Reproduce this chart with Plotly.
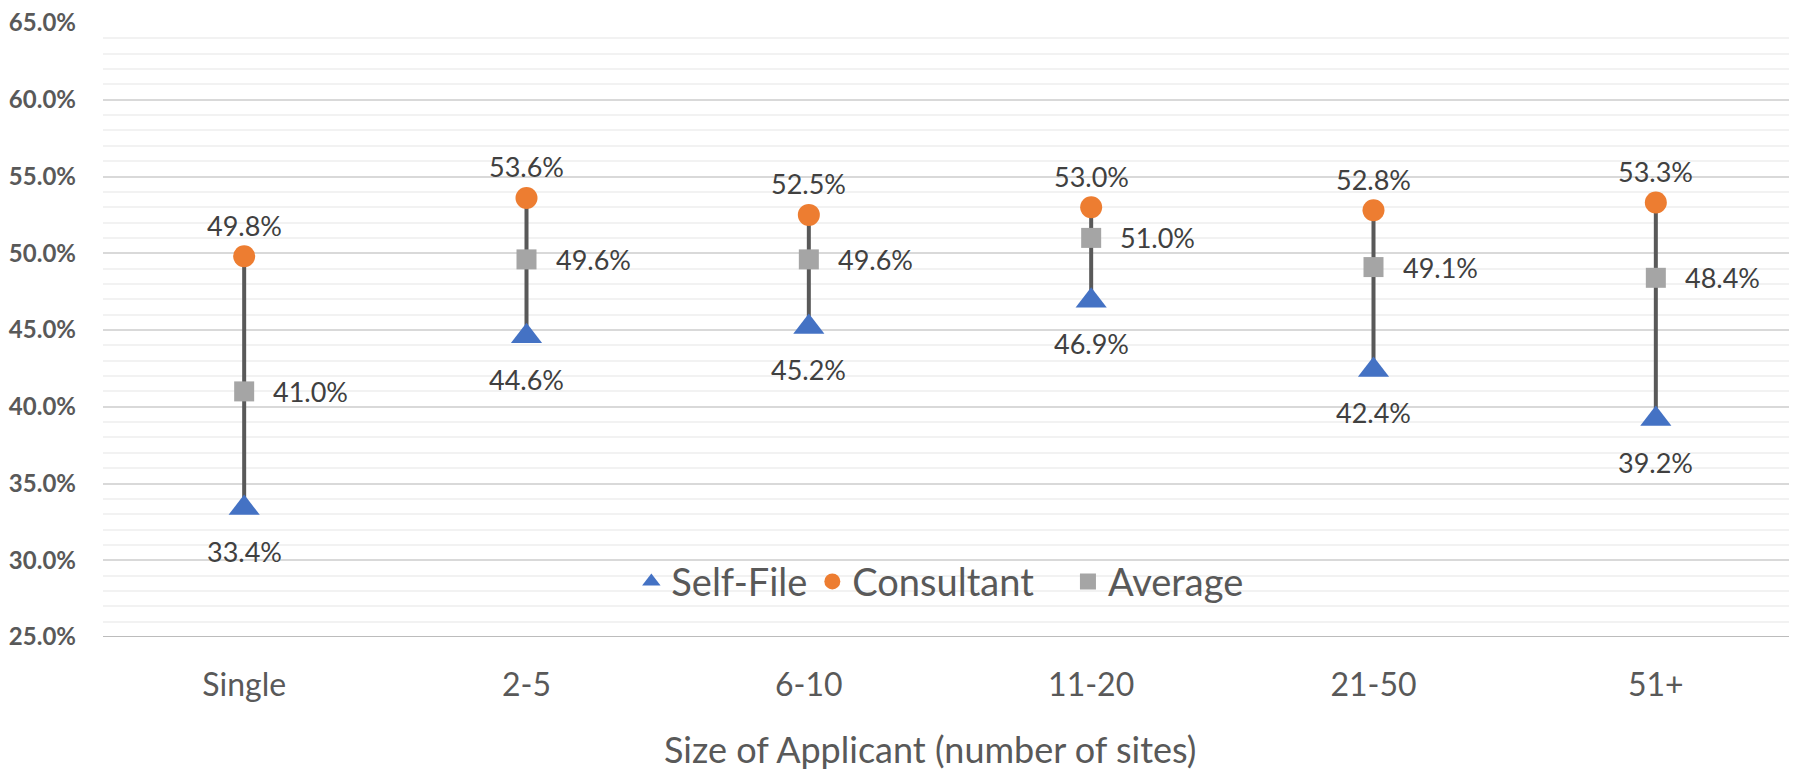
import plotly.graph_objects as go

categories = ["Single", "2-5", "6-10", "11-20", "21-50", "51+"]
self_file = [0.334, 0.446, 0.452, 0.469, 0.424, 0.392]
consultant = [0.498, 0.536, 0.525, 0.530, 0.528, 0.533]
average = [0.410, 0.496, 0.496, 0.510, 0.491, 0.484]
y_ticks = [0.25, 0.30, 0.35, 0.40, 0.45, 0.50, 0.55, 0.60, 0.65]
x_title = "Size of Applicant (number of sites)"

FONT = "Lato"
BLUE = "#4472C4"
ORANGE = "#ED7D31"
GRAY = "#A5A5A5"
NB = "\u00a0"

fig = go.Figure()

# connecting vertical lines (high-low)
lx, ly = [], []
for c, lo, hi in zip(categories, self_file, consultant):
    lx += [c, c, None]
    ly += [lo, hi, None]
fig.add_trace(go.Scatter(x=lx, y=ly, mode="lines", line=dict(color="#595959", width=4),
                         showlegend=False, hoverinfo="skip"))

fig.add_trace(go.Scatter(x=categories, y=self_file, mode="markers", name="Self-File",
                         marker=dict(symbol="triangle-up", size=27, color=BLUE)))
fig.add_trace(go.Scatter(x=categories, y=consultant, mode="markers",
                         name="Consultant" + NB * 3,
                         marker=dict(symbol="circle", size=22, color=ORANGE)))
fig.add_trace(go.Scatter(x=categories, y=average, mode="markers", name="Average",
                         marker=dict(symbol="square", size=20, color=GRAY)))

label_font = dict(family=FONT, size=27, color="#404040")
for c, v in zip(categories, consultant):
    fig.add_annotation(x=c, y=v, text=f"{v*100:.1f}%", showarrow=False, yshift=31,
                       font=label_font)
for c, v in zip(categories, self_file):
    fig.add_annotation(x=c, y=v, text=f"{v*100:.1f}%", showarrow=False, yshift=-43,
                       font=label_font)
for c, v in zip(categories, average):
    fig.add_annotation(x=c, y=v, text=f"{v*100:.1f}%", showarrow=False, xanchor="left",
                       xshift=27, font=label_font)

# axis title as a centred caption under the tick labels
fig.add_annotation(xref="paper", yref="paper", x=0.488, y=-0.1824, xanchor="center",
                   yanchor="middle", text=x_title, showarrow=False,
                   font=dict(family=FONT, size=36, color="#595959"))

fig.update_layout(
    width=1789, height=763,
    margin=dict(l=95, r=0, t=15, b=134, autoexpand=False),
    paper_bgcolor="white", plot_bgcolor="white",
    font=dict(family=FONT, color="#595959"),
    legend=dict(orientation="h", x=0.494, y=0.09, xanchor="center", yanchor="middle",
                font=dict(family=FONT, size=38, color="#595959"),
                bgcolor="rgba(0,0,0,0)", itemsizing="trace"),
    xaxis=dict(range=[-0.5, 5.5], showgrid=False, showline=False, zeroline=False,
               automargin=False, ticklabeloverflow="allow",
               tickfont=dict(family=FONT, size=32, color="#595959"),
               ticklabelstandoff=26),
    yaxis=dict(range=[0.25, 0.65], tickvals=y_ticks, tickformat=".1%", automargin=False,
               ticklabeloverflow="allow",
               tickfont=dict(family=FONT, size=24, color="#595959", weight="bold"),
               showgrid=True, gridcolor="#D9D9D9", gridwidth=1.5,
               minor=dict(dtick=0.01, showgrid=True, gridcolor="#F2F2F2", gridwidth=1.5),
               zeroline=False, showline=False, ticklabelstandoff=26),
    showlegend=True,
)
# bottom axis line
fig.add_shape(type="line", xref="paper", yref="y", x0=0, x1=1, y0=0.25, y1=0.25,
              line=dict(color="#A6A6A6", width=1.5), layer="below")

fig.write_html("out.html")
